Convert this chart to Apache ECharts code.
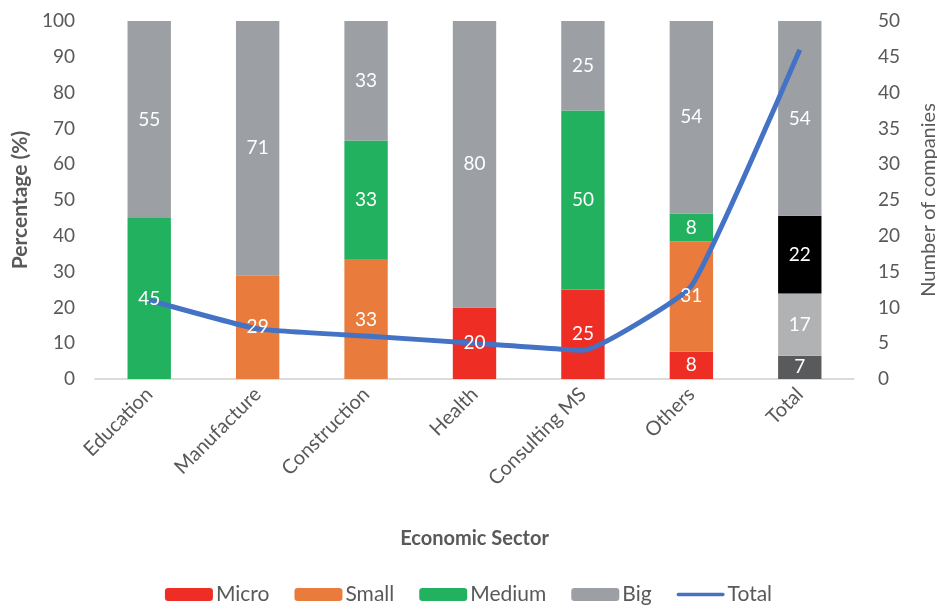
<!DOCTYPE html>
<html><head><meta charset="utf-8">
<script src="https://cdn.jsdelivr.net/npm/echarts@6/dist/echarts.min.js"></script>
<style>html,body{margin:0;padding:0;background:#fff}#c{width:937px;height:611px}</style>
</head><body><div id="c"></div>
<script>
const categories = ['Education','Manufacture','Construction','Health','Consulting MS','Others','Total'];
const micro  = [0, 0, 0, 20, 25, 7.7, 6.5];
const small  = [0, 29, 33.3, 0, 0, 30.8, 17.4];
const medium = [45, 0, 33.3, 0, 50, 7.7, 21.7];
const big    = [55, 71, 33.4, 80, 25, 53.8, 54.4];
const totalCompanies = [11, 7, 6, 5, 4, 13, 46];
const leftTicks = [0,10,20,30,40,50,60,70,80,90,100];
const rightTicks = [0,5,10,15,20,25,30,35,40,45,50];
const totalBarColors = ['#595a5c','#b1b2b4','#000000','#9c9fa3'];

const FONT = 'Lato';
const colors = {micro:'#ee2e24', small:'#e97c3c', medium:'#22b25f', big:'#9c9fa3', total:'#4472c4'};

function barSeries(name, data, color, idx){
  return {
    name, type:'bar', stack:'pct', barWidth:'40%', yAxisIndex:0, zlevel:0,
    itemStyle:{color},
    data: data.map((v,i)=> {
      const d = {value: v === 0 ? null : v};
      if (i === categories.length-1) d.itemStyle = {color: totalBarColors[idx]};
      return d;
    }),
    label:{show:false}
  };
}
function labelSeries(name, data){
  return {
    name: name + '_lbl', type:'bar', stack:'lbl', barWidth:'40%', barGap:'-100%', yAxisIndex:0, zlevel:2,
    itemStyle:{color:'rgba(0,0,0,0)'}, silent:true,
    data: data.map(v => v === 0 ? null : v),
    label:{show:true, position:'inside', color:'#fff', fontFamily:FONT, fontSize:19,
      formatter: p => p.value ? Math.round(p.value) : ''}
  };
}

const chart = echarts.init(document.getElementById('c'));
chart.setOption({
  animation:false,
  textStyle:{fontFamily:FONT},
  grid:{left:95, right:83, top:21, bottom:232, containLabel:false, outerBoundsMode:'none'},
  legend:{
    bottom:1, left:'center', itemWidth:48, itemHeight:13, itemGap:25,
    textStyle:{fontFamily:FONT, fontSize:21, color:'#595959', padding:[0,0,0,-2]},
    data:['Micro','Small','Medium','Big',{name:'Total', icon:'path://M2,4.5 L56,4.5 A2,2 0 0 1 56,8.5 L2,8.5 A2,2 0 0 1 2,4.5 Z', itemStyle:{}}]
  },
  xAxis:{
    type:'category', data:categories,
    name:'Economic Sector', nameLocation:'middle', nameGap:150,
    nameTextStyle:{fontFamily:FONT, fontSize:20, fontWeight:'bold', color:'#595959'},
    axisLine:{lineStyle:{color:'#d0d0d0', width:1.5}},
    axisTick:{show:false},
    axisLabel:{rotate:45, fontSize:20, color:'#595959', fontFamily:FONT, margin:12}
  },
  yAxis:[{
    type:'value', min:0, max:100, interval:10,
    name:'Percentage (%)', nameLocation:'middle', nameGap:64, nameRotate:90,
    nameTextStyle:{fontFamily:FONT, fontSize:21, fontWeight:'bold', color:'#595959'},
    axisLabel:{fontSize:19, color:'#595959', fontFamily:FONT, margin:20,
      formatter: v => leftTicks.includes(v) ? v : ''},
    splitLine:{show:false}, axisLine:{show:false}, axisTick:{show:false}
  },{
    type:'value', min:0, max:50, interval:5,
    name:'Number of companies', nameLocation:'middle', nameGap:65, nameRotate:90,
    nameTextStyle:{fontFamily:FONT, fontSize:20, color:'#595959'},
    axisLabel:{fontSize:19, color:'#595959', fontFamily:FONT, margin:24,
      formatter: v => rightTicks.includes(v) ? v : ''},
    splitLine:{show:false}, axisLine:{show:false}, axisTick:{show:false}
  }],
  series:[
    barSeries('Micro', micro, colors.micro, 0),
    barSeries('Small', small, colors.small, 1),
    barSeries('Medium', medium, colors.medium, 2),
    barSeries('Big', big, colors.big, 3),
    labelSeries('Micro', micro),
    labelSeries('Small', small),
    labelSeries('Medium', medium),
    labelSeries('Big', big),
    {name:'Total', type:'line', yAxisIndex:1, data:totalCompanies, smooth:0.12, zlevel:1,
     symbol:'none', lineStyle:{color:colors.total, width:5}, itemStyle:{color:colors.total}}
  ]
});
</script></body></html>
